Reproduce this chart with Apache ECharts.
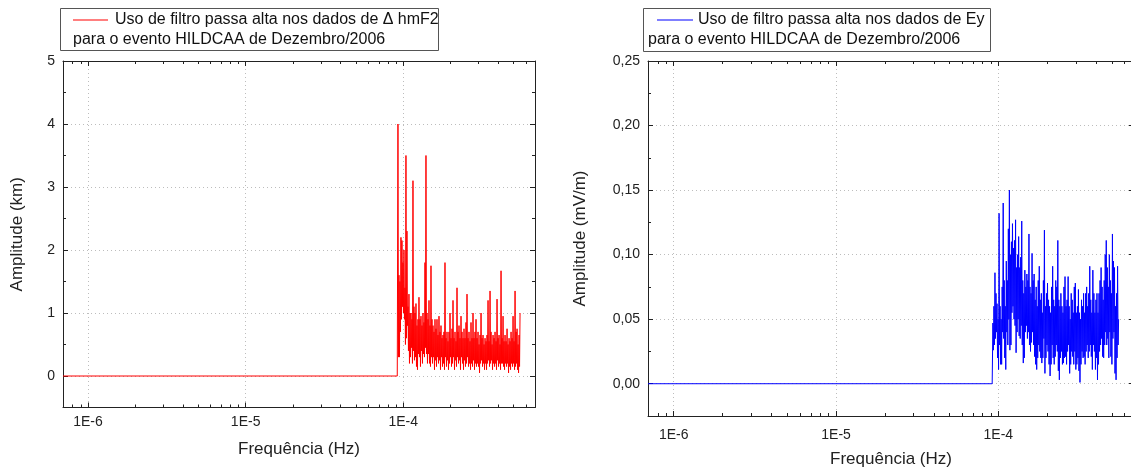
<!DOCTYPE html>
<html><head><meta charset="utf-8">
<script src="https://cdn.jsdelivr.net/npm/echarts@6/dist/echarts.min.js"></script>
<style>html,body{margin:0;padding:0;background:#fff}#c{width:1131px;height:470px}</style>
</head><body><div id="c"></div>
<script>
// ---------- DATA ----------
// Flat (zero) part of the filtered spectrum, frequencies in µHz
const zeroFreqUHz = [0.694, 91.6];
const zeroAmp = [0, 0];
// Noisy part: one column of the plot per entry (frequencies in µHz, shared by both panels).
// For every column the highest reading sits at noiseFreqUHz[i], the lowest at troughFreqUHz[i].
const noiseFreqUHz = [
  92.54, 93.90, 95.28, 96.69, 98.11, 99.56, 101.02, 102.51, 104.02, 105.55,
  107.10, 108.68, 110.28, 111.91, 113.55, 115.23, 116.92, 118.64, 120.39, 122.16,
  123.96, 125.79, 127.64, 129.52, 131.42, 133.36, 135.32, 137.31, 139.33, 141.39,
  143.47, 145.60, 147.74, 149.92, 152.12, 154.36, 156.64, 158.94, 161.28, 163.66,
  166.07, 168.52, 171.00, 173.52, 176.07, 178.66, 181.29, 183.96, 186.67, 189.42,
  192.21, 195.04, 197.91, 200.83, 203.78, 206.78, 209.83, 212.92, 216.05, 219.23,
  222.46, 225.74, 229.06, 232.43, 235.85, 239.33, 242.85, 246.43, 250.05, 253.73,
  257.47, 261.26, 265.11, 269.01, 272.97, 276.99, 281.07, 285.21, 289.40, 293.66,
  297.99, 302.4, 306.9, 311.4, 316.0, 320.6, 325.4, 330.2, 335.0, 339.9,
  345.0, 350.0, 355.2, 360.4, 365.7, 371.1, 376.6, 382.1, 387.7, 393.4,
  399.2, 405.1, 411.1, 417.1, 423.3, 429.5, 435.8, 442.2, 448.8, 455.4,
  462.1, 468.9, 475.8, 482.8, 489.9, 497.1, 504.4, 511.9, 519.4, 527.1,
  534.8, 542.7, 550.7
];
const troughFreqUHz = [
  93.22, 94.59, 95.98, 97.40, 98.83, 100.29, 101.76, 103.26, 104.78, 106.32,
  107.89, 109.48, 111.09, 112.73, 114.38, 116.08, 117.78, 119.51, 121.27, 123.06,
  124.87, 126.71, 128.58, 130.47, 132.38, 134.34, 136.31, 138.32, 140.35, 142.43,
  144.52, 146.67, 148.82, 151.02, 153.24, 155.49, 157.79, 160.11, 162.46, 164.86,
  167.29, 169.76, 172.25, 174.79, 177.36, 179.97, 182.62, 185.31, 188.04, 190.81,
  193.62, 196.47, 199.36, 202.30, 205.28, 208.30, 211.37, 214.48, 217.63, 220.84,
  224.09, 227.40, 230.74, 234.14, 237.58, 241.09, 244.63, 248.24, 251.88, 255.59,
  259.36, 263.18, 267.06, 270.98, 274.97, 279.02, 283.13, 287.30, 291.52, 295.81,
  300.2, 304.6, 309.2, 313.7, 318.3, 323.0, 327.8, 332.6, 337.5, 342.4,
  347.5, 352.6, 357.8, 363.0, 368.4, 373.8, 379.4, 384.9, 390.5, 396.3,
  402.1, 408.1, 414.1, 420.2, 426.4, 432.7, 439.0, 445.4, 452.1, 458.7,
  465.5, 472.3, 479.3, 486.3, 493.5, 500.7, 508.1, 515.7, 523.2, 531.0,
  538.7, 546.7
];
// Δ hmF2 amplitude (km): column peaks and troughs
const hmf2Peak = [
  4.0, 1.6, 1.5, 2.2, 2.15, 1.8, 2.0, 1.4, 3.5, 2.3,
  1.1, 1.3, 1.0, 1.0, 0.9, 3.1, 1.1, 1.0, 1.15, 0.8,
  0.9, 1.25, 0.9, 0.95, 0.8, 1.0, 0.85, 1.8, 3.5, 1.0,
  0.9, 1.2, 0.8, 1.75, 0.9, 0.8, 0.7, 0.9, 0.75, 0.9,
  0.65, 0.95, 0.7, 0.8, 0.6, 0.65, 0.7, 1.8, 0.6, 0.7,
  0.55, 0.7, 1.0, 0.6, 0.75, 1.2, 0.6, 0.7, 0.55, 1.4,
  0.7, 0.8, 0.6, 0.95, 0.7, 0.6, 0.75, 0.6, 0.85, 1.3,
  0.6, 0.7, 0.55, 0.85, 0.6, 1.0, 0.6, 0.7, 0.9, 0.6,
  0.7, 0.5, 0.65, 1.0, 0.6, 0.65, 0.5, 0.6, 0.55, 0.65,
  1.2, 0.55, 1.35, 0.7, 0.5, 0.65, 0.6, 0.7, 0.55, 1.22,
  0.6, 0.65, 0.5, 1.67, 0.6, 0.95, 0.55, 0.65, 0.55, 0.75,
  0.5, 0.6, 0.55, 0.7, 0.6, 0.95, 0.55, 1.35, 0.7, 0.75,
  0.5, 0.65, 1.0
];
const hmf2Trough = [
  0.3, 0.3, 0.7, 0.9, 1.1, 1.0, 0.9, 0.5, 0.6, 0.8,
  0.4, 0.2, 0.3, 0.45, 0.2, 0.4, 0.25, 0.3, 0.15, 0.1,
  0.35, 0.3, 0.15, 0.4, 0.2, 0.35, 0.3, 0.45, 0.35, 0.2,
  0.35, 0.2, 0.15, 0.3, 0.2, 0.3, 0.1, 0.25, 0.15, 0.3,
  0.2, 0.25, 0.1, 0.3, 0.15, 0.2, 0.1, 0.3, 0.15, 0.25,
  0.1, 0.2, 0.3, 0.15, 0.2, 0.3, 0.1, 0.25, 0.15, 0.3,
  0.2, 0.25, 0.1, 0.3, 0.2, 0.1, 0.25, 0.15, 0.2, 0.3,
  0.15, 0.2, 0.1, 0.2, 0.15, 0.25, 0.1, 0.2, 0.15, 0.2,
  0.15, 0.05, 0.2, 0.25, 0.15, 0.2, 0.1, 0.2, 0.1, 0.2,
  0.25, 0.15, 0.2, 0.25, 0.1, 0.2, 0.15, 0.2, 0.1, 0.25,
  0.15, 0.2, 0.1, 0.2, 0.2, 0.15, 0.1, 0.2, 0.15, 0.2,
  0.05, 0.15, 0.1, 0.2, 0.15, 0.2, 0.1, 0.15, 0.2, 0.1,
  0.05, 0.15
];
// Ey amplitude (mV/m): column peaks and troughs
const eyPeak = [
  0.047, 0.060, 0.086, 0.070, 0.062, 0.050, 0.132, 0.060, 0.050, 0.075,
  0.140, 0.080, 0.060, 0.095, 0.080, 0.120, 0.150, 0.100, 0.110, 0.124,
  0.105, 0.111, 0.127, 0.090, 0.100, 0.114, 0.090, 0.098, 0.126, 0.080,
  0.070, 0.088, 0.075, 0.085, 0.080, 0.116, 0.075, 0.070, 0.101, 0.080,
  0.085, 0.065, 0.075, 0.060, 0.080, 0.091, 0.065, 0.070, 0.055, 0.080,
  0.119, 0.060, 0.070, 0.078, 0.065, 0.060, 0.055, 0.075, 0.091, 0.065,
  0.060, 0.080, 0.075, 0.111, 0.065, 0.060, 0.070, 0.060, 0.055, 0.075,
  0.083, 0.060, 0.065, 0.083, 0.060, 0.050, 0.070, 0.065, 0.055, 0.075,
  0.078, 0.055, 0.060, 0.073, 0.055, 0.050, 0.065, 0.060, 0.070, 0.055,
  0.070, 0.075, 0.060, 0.070, 0.091, 0.065, 0.055, 0.088, 0.070, 0.055,
  0.065, 0.070, 0.055, 0.070, 0.080, 0.090, 0.075, 0.065, 0.080, 0.100,
  0.111, 0.090, 0.075, 0.100, 0.080, 0.070, 0.116, 0.095, 0.090, 0.060,
  0.070, 0.091, 0.050
];
const eyTrough = [
  0.026, 0.030, 0.035, 0.040, 0.020, 0.011, 0.030, 0.015, 0.015, 0.040,
  0.035, 0.020, 0.011, 0.040, 0.030, 0.050, 0.026, 0.030, 0.055, 0.060,
  0.050, 0.045, 0.024, 0.040, 0.050, 0.037, 0.035, 0.045, 0.030, 0.016,
  0.020, 0.040, 0.045, 0.035, 0.040, 0.030, 0.025, 0.032, 0.040, 0.030,
  0.021, 0.015, 0.011, 0.020, 0.030, 0.025, 0.020, 0.016, 0.020, 0.035,
  0.008, 0.020, 0.030, 0.025, 0.015, 0.006, 0.015, 0.030, 0.020, 0.015,
  0.021, 0.030, 0.025, 0.010, 0.003, 0.020, 0.025, 0.015, 0.016, 0.020,
  0.021, 0.015, 0.025, 0.030, 0.008, 0.015, 0.025, 0.021, 0.015, 0.025,
  0.011, 0.015, 0.020, 0.010, 0.001, 0.015, 0.025, 0.020, 0.021, 0.015,
  0.025, 0.030, 0.020, 0.025, 0.030, 0.021, 0.011, 0.030, 0.025, 0.011,
  0.020, 0.003, 0.015, 0.025, 0.030, 0.035, 0.021, 0.020, 0.030, 0.040,
  0.030, 0.035, 0.020, 0.040, 0.021, 0.015, 0.035, 0.040, 0.008, 0.003,
  0.020, 0.030
];
const xMajorLabels = ['1E-6', '1E-5', '1E-4'];
const xMinorTicks = [7e-7, 8e-7, 9e-7, 2e-6, 3e-6, 4e-6, 5e-6, 6e-6, 7e-6, 8e-6, 9e-6,
  2e-5, 3e-5, 4e-5, 5e-5, 6e-5, 7e-5, 8e-5, 9e-5, 2e-4, 3e-4, 4e-4, 5e-4, 6e-4];
const yLeftMinorTicks = [0.5, 1.5, 2.5, 3.5, 4.5];
const yRightMinorTicks = [0.025, 0.075, 0.125, 0.175, 0.225];
const legendTextLeft = ['Uso de filtro passa alta nos dados de \u0394 hmF2', 'para o evento HILDCAA de Dezembro/2006'];
const legendTextRight = ['Uso de filtro passa alta nos dados de Ey', 'para o evento HILDCAA de Dezembro/2006'];

// ---------- BUILD ----------
const FONT = '"Liberation Sans", Arial, sans-serif';
const INK = '#222';
const X_MIN = 6.94e-7, X_MAX = 6.85e-4;

function buildData(peak, trough) {
  const pts = zeroFreqUHz.map((f, i) => [f * 1e-6, zeroAmp[i]]);
  noiseFreqUHz.forEach((f, i) => {
    pts.push([f * 1e-6, peak[i]]);
    if (i < troughFreqUHz.length) pts.push([troughFreqUHz[i] * 1e-6, trough[i]]);
  });
  return pts;
}
function xLabel(v) {
  const e = Math.round(Math.log10(v));
  return xMajorLabels[e + 6] || ('1E' + e);
}
function xAxes(gi, nameGap, labelMargin) {
  const base = { type: 'log', logBase: 10, gridIndex: gi, min: X_MIN, max: X_MAX };
  return [
    Object.assign({}, base, {
      position: 'bottom',
      name: 'Frequência (Hz)', nameLocation: 'middle', nameGap: nameGap,
      nameTextStyle: { fontFamily: FONT, fontSize: 17, color: INK },
      axisLine: { show: true, onZero: false, lineStyle: { color: INK, width: 1 } },
      axisTick: { show: true, inside: true, length: 5, lineStyle: { color: INK } },
      axisLabel: { show: true, formatter: xLabel, fontFamily: FONT, fontSize: 14, color: INK,
        margin: labelMargin, showMinLabel: false, showMaxLabel: false },
      splitLine: { show: true, lineStyle: { type: [1, 3], color: '#bdbdbd', width: 1 } }
    }),
    Object.assign({}, base, {
      position: 'bottom',
      axisLine: { show: false, onZero: false },
      axisTick: { show: true, inside: true, length: 3, customValues: xMinorTicks, lineStyle: { color: INK } },
      axisLabel: { show: false }, splitLine: { show: false }
    }),
    Object.assign({}, base, {
      position: 'top',
      axisLine: { show: true, onZero: false, lineStyle: { color: INK, width: 1 } },
      axisTick: { show: true, inside: true, length: 5, lineStyle: { color: INK } },
      axisLabel: { show: false }, splitLine: { show: false }
    }),
    Object.assign({}, base, {
      position: 'top',
      axisLine: { show: false, onZero: false },
      axisTick: { show: true, inside: true, length: 3, customValues: xMinorTicks, lineStyle: { color: INK } },
      axisLabel: { show: false }, splitLine: { show: false }
    })
  ];
}
function yAxes(gi, min, max, fmt, name, nameGap, minors) {
  const base = { type: 'value', gridIndex: gi, min: min, max: max, splitNumber: 5 };
  return [
    Object.assign({}, base, {
      position: 'left',
      name: name, nameLocation: 'middle', nameGap: nameGap,
      nameTextStyle: { fontFamily: FONT, fontSize: 17, color: INK },
      axisLine: { show: true, onZero: false, lineStyle: { color: INK, width: 1 } },
      axisTick: { show: true, inside: true, length: 5, lineStyle: { color: INK } },
      axisLabel: { show: true, formatter: fmt, fontFamily: FONT, fontSize: 14, color: INK, margin: 8, showMinLabel: false },
      splitLine: { show: true, lineStyle: { type: [1, 3], color: '#bdbdbd', width: 1 } }
    }),
    Object.assign({}, base, {
      position: 'left',
      axisLine: { show: false, onZero: false },
      axisTick: { show: true, inside: true, length: 3, customValues: minors, lineStyle: { color: INK } },
      axisLabel: { show: false }, splitLine: { show: false }
    }),
    Object.assign({}, base, {
      position: 'right',
      axisLine: { show: true, onZero: false, lineStyle: { color: INK, width: 1 } },
      axisTick: { show: true, inside: true, length: 5, lineStyle: { color: INK } },
      axisLabel: { show: false }, splitLine: { show: false }
    }),
    Object.assign({}, base, {
      position: 'right',
      axisLine: { show: false, onZero: false },
      axisTick: { show: true, inside: true, length: 3, customValues: minors, lineStyle: { color: INK } },
      axisLabel: { show: false }, splitLine: { show: false }
    })
  ];
}
function legendBox(x, y, w, h, lineX1, lineX2, textX1, line2X, color, texts) {
  return [
    { type: 'rect', silent: true, shape: { x: x + 0.5, y: y + 0.5, width: w, height: h },
      style: { fill: '#fff', stroke: '#555', lineWidth: 1 }, z: 100 },
    { type: 'line', silent: true, shape: { x1: lineX1, y1: y + 12, x2: lineX2, y2: y + 12 },
      style: { stroke: color, lineWidth: 1.2 }, z: 101 },
    { type: 'text', silent: true, x: textX1, y: y + 11.5, z: 101,
      style: { text: texts[0], fontFamily: FONT, fontSize: 16, fill: '#111', verticalAlign: 'middle' } },
    { type: 'text', silent: true, x: line2X, y: y + 32, z: 101,
      style: { text: texts[1], fontFamily: FONT, fontSize: 16, fill: '#111', verticalAlign: 'middle' } }
  ];
}

const chart = echarts.init(document.getElementById('c'), null, { renderer: 'canvas' });
chart.setOption({
  animation: false,
  backgroundColor: '#fff',
  grid: [
    { left: 63, top: 61, width: 472, height: 346.5, containLabel: false, outerBoundsMode: 'none' },
    { left: 648, top: 61, width: 486, height: 355, containLabel: false, outerBoundsMode: 'none' }
  ],
  xAxis: xAxes(0, 33, 8).concat(xAxes(1, 35, 12)),
  yAxis: yAxes(0, -0.5, 5, v => String(Math.round(v)), 'Amplitude (km)', 37, yLeftMinorTicks)
    .concat(yAxes(1, -0.025, 0.25, v => v.toFixed(2).replace('.', ','), 'Amplitude (mV/m)', 59, yRightMinorTicks)),
  series: [
    { name: legendTextLeft.join(' '), type: 'line', xAxisIndex: 0, yAxisIndex: 0,
      data: buildData(hmf2Peak, hmf2Trough), showSymbol: false, symbol: 'none', sampling: false,
      lineStyle: { color: '#ff0000', width: 1 }, itemStyle: { color: '#ff0000' } },
    { name: legendTextRight.join(' '), type: 'line', xAxisIndex: 4, yAxisIndex: 4,
      data: buildData(eyPeak, eyTrough), showSymbol: false, symbol: 'none', sampling: false,
      lineStyle: { color: '#0000ff', width: 1 }, itemStyle: { color: '#0000ff' } }
  ],
  graphic: legendBox(60, 8, 378, 42, 73, 108, 115, 73, '#ff0000', legendTextLeft)
    .concat(legendBox(643, 8, 347, 43, 657, 693, 698, 648, '#0000ff', legendTextRight))
});
</script>
</body></html>
